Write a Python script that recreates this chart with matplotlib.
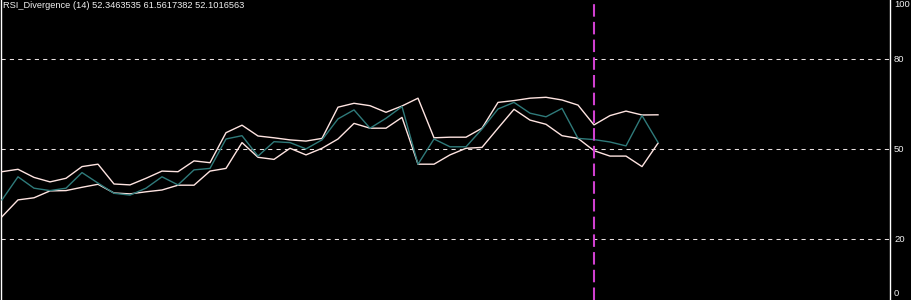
import matplotlib
matplotlib.use("Agg")
import matplotlib.pyplot as plt

title_text = "RSI_Divergence (14) 52.3463535 61.5617382 52.1016563"

upper = [42.6, 43.4, 40.7, 39.2, 40.4, 44.3, 45.1, 38.5, 38.2, 40.4,
         42.8, 42.6, 46.2, 45.6, 55.6, 58.1, 54.5, 53.9, 53.2, 52.8,
         53.7, 64.1, 65.4, 64.6, 62.4, 64.5, 67.1, 53.9, 54.1, 54.1,
         57.1, 65.7, 66.3, 67.1, 67.4, 66.5, 64.8, 58.2, 61.3, 62.8,
         61.5, 61.5617382]
middle = [33.2, 40.9, 37.1, 36.3, 37.1, 42.3, 38.8, 35.4, 34.8, 37.1,
          40.9, 38.2, 43.2, 43.7, 53.5, 54.6, 47.8, 52.6, 52.3, 50.2,
          53.2, 60.2, 63.2, 57.1, 60.4, 64.3, 45.1, 53.5, 50.9, 50.9,
          56.8, 63.5, 65.7, 62.1, 60.9, 63.7, 53.7, 53.3, 52.5, 51.2,
          61.3, 52.3463535]
lower = [27.6, 33.2, 33.9, 36.2, 36.3, 37.4, 38.4, 35.5, 35.2, 35.9,
         36.5, 38.1, 38.1, 42.8, 43.7, 52.3, 47.4, 46.7, 50.4, 48.2,
         50.4, 53.5, 58.7, 57.1, 57.1, 60.7, 45.1, 45.1, 48.2, 50.4,
         50.7, 57.1, 63.4, 59.8, 58.4, 54.6, 53.7, 49.6, 47.8, 47.8,
         44.3, 52.1016563]
levels = [20, 50, 80]
tick_labels = ["100", "80", "50", "20", "0"]
tick_values = [100, 80, 50, 20, 0]
marker_bar = 37

W, H = 911, 300
fig = plt.figure(figsize=(W / 100, H / 100), dpi=100, facecolor="black")
ax = fig.add_axes([1 / W, 0, 889 / W, 1])
ax.set_facecolor("black")

x = list(range(len(upper)))
line_col = "#FFE4E1"
teal = "#2F7A7A"

for lv in levels:
    ax.axhline(lv, color="#E8E0E0", lw=0.75, linestyle=(0, (4, 4)), zorder=1)

ax.plot(x, upper, color=line_col, lw=1.0, zorder=3)
ax.plot(x, lower, color=line_col, lw=1.0, zorder=3)
ax.plot(x, middle, color=teal, lw=1.0, zorder=4)

ax.axvline(marker_bar, color="#D040D0", lw=1.5, linestyle=(0, (6, 2.5)), zorder=5)

ax.set_xlim(-0.0625, 55.5)
ax.set_ylim(-0.17, 99.83)
ax.set_xticks([])
ax.set_yticks([])
for s in ["top", "bottom"]:
    ax.spines[s].set_visible(False)
for s in ["left", "right"]:
    ax.spines[s].set_color("white")
    ax.spines[s].set_linewidth(1.0)

# right-side value labels
for lab, v in zip(tick_labels, tick_values):
    yv = min(max(v, 2.0), 98.2)
    ax.text(1.0 + 4 / 889, yv, lab, transform=ax.get_yaxis_transform(),
            color="#F0F0F0", fontsize=6.8, family="Liberation Sans",
            ha="left", va="center", clip_on=False)

fig.text(3 / W, 1 - 5.5 / H, title_text, color="#F0F0F0", fontsize=6.7,
         family="Liberation Sans", ha="left", va="center")

fig.savefig("out.png", dpi=100, facecolor="black")
